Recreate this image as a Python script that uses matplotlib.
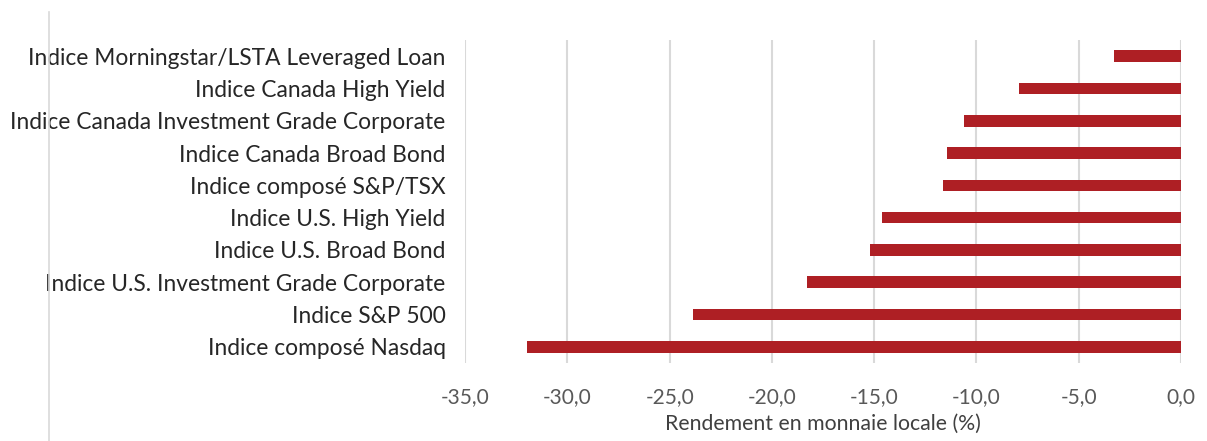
"""
Rendement en monnaie locale des principaux indices (barres horizontales)
"""

import matplotlib.pyplot as plt
from matplotlib.lines import Line2D
from matplotlib.ticker import FuncFormatter
import numpy as np

plt.rcParams['font.family'] = ['Lato', 'DejaVu Sans']

# data (top to bottom)
indices = ["Indice Morningstar/LSTA Leveraged Loan",
           "Indice Canada High Yield",
           "Indice Canada Investment Grade Corporate",
           "Indice Canada Broad Bond",
           "Indice composé S&P/TSX",
           "Indice U.S. High Yield",
           "Indice U.S. Broad Bond",
           "Indice U.S. Investment Grade Corporate",
           "Indice S&P 500",
           "Indice composé Nasdaq"]
rendements = [-3.26, -7.90, -10.59, -11.45, -11.65,
              -14.60, -15.22, -18.28, -23.84, -31.98]
x_ticks = [-35, -30, -25, -20, -15, -10, -5, 0]

bar_color = "#AE1F24"
grid_color = "#D9D9D9"

fig = plt.figure(figsize=(12.07, 4.41), dpi=100)
ax = fig.add_axes([0.3853, 0.1769, 0.9785 - 0.3853, 0.9093 - 0.1769])

y = np.arange(len(indices))
ax.barh(y, rendements, height=0.36, color=bar_color, zorder=3)

ax.set_xlim(-35, 0)
ax.set_ylim(len(indices) - 0.5, -0.5)
ax.set_xticks(x_ticks)
ax.xaxis.set_major_formatter(FuncFormatter(lambda v, p: f"{v:.1f}".replace(".", ",")))
ax.set_yticks(y)
ax.set_yticklabels(indices, fontsize=16.4, color="#262626")
ax.tick_params(axis="x", length=0, pad=17, labelsize=15, labelcolor="#595959")
ax.tick_params(axis="y", length=0, pad=14)

ax.grid(True, axis="x", color=grid_color, linewidth=1.5, zorder=0)
for s in ax.spines.values():
    s.set_visible(False)

ax.set_xlabel("Rendement en monnaie locale (%)", fontsize=15.3, color="#404040",
              labelpad=5)

# left border of the chart area
fig.add_artist(Line2D([49 / 1207, 49 / 1207], [0, 1 - 12 / 441],
                      transform=fig.transFigure, color=grid_color, linewidth=1.2))

fig.savefig("out.png", dpi=100)
plt.close(fig)
